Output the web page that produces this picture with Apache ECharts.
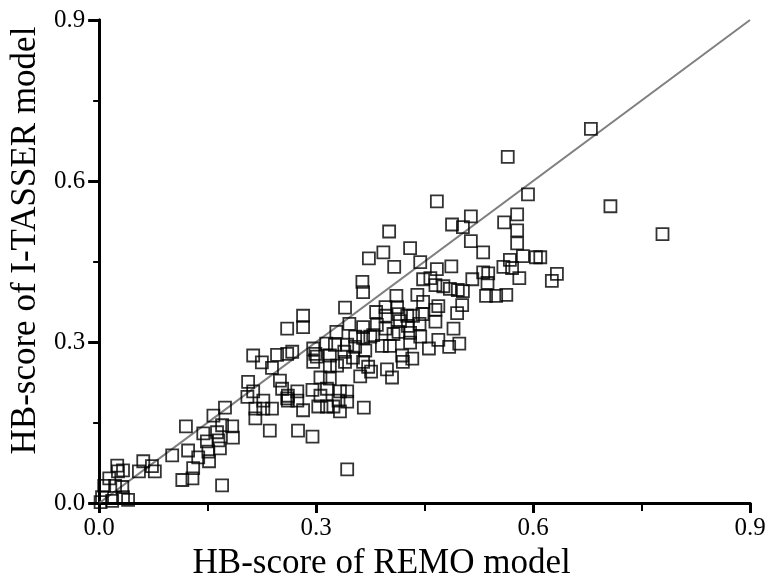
<!DOCTYPE html>
<html>
<head>
    <meta charset="utf-8">
    <title>HB-score scatter</title>
    <script src="https://cdn.jsdelivr.net/npm/echarts@6/dist/echarts.min.js"></script>
    <style>
        html, body { margin: 0; padding: 0; background: #fff; }
    </style>
</head>
<body>
    <div id="main" style="width: 773px;height:586px;"></div>
    <script type="text/javascript">
        // HB-score of REMO model (x) against HB-score of I-TASSER model (y)
        var remoScore = [
            0.025, 0.033, 0.026, 0.014, 0.007, 0.022, 0.032, 0.004, 0.018, 0.033, 0.040, 0.002,
            0.061, 0.073, 0.077, 0.055, 0.101, 0.115, 0.129, 0.130, 0.123, 0.137, 0.152, 0.170,
            0.120, 0.144, 0.158, 0.170, 0.174, 0.184, 0.185, 0.163, 0.149, 0.165, 0.167, 0.151,
            0.213, 0.225, 0.246, 0.260, 0.239, 0.250, 0.253, 0.206, 0.213, 0.205, 0.227, 0.216,
            0.227, 0.239, 0.216, 0.236, 0.260,
            0.401, 0.373, 0.393, 0.408, 0.364, 0.365, 0.340, 0.346, 0.328, 0.282, 0.282, 0.260,
            0.365, 0.383, 0.396, 0.396, 0.411, 0.412, 0.384, 0.396, 0.407, 0.379, 0.354, 0.365,
            0.375, 0.343, 0.354, 0.368, 0.391, 0.402, 0.314, 0.326, 0.296, 0.301, 0.296, 0.319,
            0.319, 0.329, 0.339, 0.351, 0.340, 0.365, 0.372, 0.376, 0.361, 0.398, 0.405, 0.306,
            0.319, 0.315, 0.306, 0.295, 0.333, 0.343, 0.331, 0.343, 0.324, 0.303, 0.315, 0.333,
            0.366, 0.282, 0.299, 0.267, 0.261, 0.274, 0.274, 0.261, 0.275, 0.295,
            0.593, 0.467, 0.514, 0.488, 0.503, 0.560, 0.578, 0.578, 0.578, 0.514, 0.531, 0.430,
            0.444, 0.467, 0.487, 0.586, 0.604, 0.568, 0.559, 0.571, 0.581, 0.531, 0.538, 0.537,
            0.516, 0.503, 0.633, 0.626, 0.535, 0.549, 0.563, 0.448, 0.458, 0.465, 0.476, 0.485,
            0.496, 0.440, 0.448, 0.469, 0.502, 0.495, 0.465, 0.414, 0.426, 0.434, 0.447, 0.416,
            0.427, 0.443, 0.465, 0.490, 0.414, 0.430, 0.444, 0.469, 0.430, 0.456, 0.484, 0.498,
            0.419, 0.433, 0.420,
            0.680, 0.707, 0.779, 0.610, 0.565, 0.343
        ];
        var itasserScore = [
            0.070, 0.061, 0.059, 0.046, 0.032, 0.032, 0.030, 0.011, 0.004, 0.011, 0.006, 0.002,
            0.078, 0.069, 0.059, 0.059, 0.089, 0.043, 0.046, 0.065, 0.098, 0.085, 0.078, 0.033,
            0.143, 0.130, 0.163, 0.145, 0.178, 0.143, 0.122, 0.132, 0.115, 0.117, 0.102, 0.096,
            0.275, 0.262, 0.276, 0.278, 0.252, 0.228, 0.213, 0.226, 0.208, 0.198, 0.191, 0.176,
            0.176, 0.176, 0.158, 0.135, 0.195,
            0.506, 0.456, 0.467, 0.440, 0.412, 0.393, 0.364, 0.334, 0.319, 0.349, 0.328, 0.325,
            0.328, 0.356, 0.365, 0.349, 0.386, 0.365, 0.332, 0.325, 0.315, 0.313, 0.310, 0.308,
            0.310, 0.295, 0.291, 0.284, 0.293, 0.293, 0.297, 0.295, 0.288, 0.273, 0.263, 0.275,
            0.256, 0.256, 0.282, 0.271, 0.263, 0.263, 0.254, 0.245, 0.236, 0.249, 0.234, 0.234,
            0.232, 0.213, 0.200, 0.211, 0.208, 0.208, 0.191, 0.189, 0.180, 0.180, 0.180, 0.171,
            0.178, 0.173, 0.278, 0.282, 0.200, 0.208, 0.191, 0.191, 0.135, 0.124,
            0.575, 0.562, 0.534, 0.519, 0.514, 0.523, 0.538, 0.508, 0.484, 0.488, 0.467, 0.475,
            0.449, 0.436, 0.441, 0.460, 0.458, 0.453, 0.440, 0.438, 0.419, 0.430, 0.428, 0.410,
            0.417, 0.395, 0.427, 0.414, 0.386, 0.386, 0.388, 0.417, 0.419, 0.406, 0.404, 0.399,
            0.397, 0.388, 0.375, 0.367, 0.369, 0.354, 0.360, 0.352, 0.349, 0.349, 0.352, 0.339,
            0.330, 0.334, 0.338, 0.325, 0.319, 0.317, 0.310, 0.304, 0.299, 0.288, 0.291, 0.297,
            0.275, 0.269, 0.263,
            0.697, 0.553, 0.501, 0.458, 0.645, 0.063
        ];
        var diagonal = [0, 0.9];
        var tickLabels = ['0.0', '0.3', '0.6', '0.9'];

        var myChart = echarts.init(document.getElementById('main'));

        var points = remoScore.map(function(x, i) {
            return [x, itasserScore[i]];
        });

        var font = 'Liberation Serif, Times New Roman, serif';
        var labelFmt = function(v) {
            var s = v.toFixed(1);
            return tickLabels.indexOf(s) >= 0 ? s : '';
        };

        var option = {
            animation: false,
            grid: { left: 99, right: 23, top: 20, bottom: 81 },
            xAxis: [{
                type: 'value', min: 0, max: 0.9, interval: 0.3,
                name: 'HB-score of REMO model',
                nameLocation: 'middle', nameGap: 42,
                // title sits a little left of the axis centre in the original
                nameTextStyle: { fontFamily: font, fontSize: 35, color: '#000', padding: [0, 86, 0, 0] },
                axisLine: { lineStyle: { color: '#000', width: 3 } },
                axisTick: { inside: false, length: 10, lineStyle: { color: '#000', width: 3 } },
                minorTick: { show: true, splitNumber: 2, length: 6, lineStyle: { color: '#000', width: 2 } },
                axisLabel: { fontFamily: font, fontSize: 25, color: '#000', margin: 13, formatter: labelFmt },
                splitLine: { show: false }
            }, {
                type: 'value', min: 0, max: 0.9, interval: 0.15, position: 'top',
                axisLine: { lineStyle: { color: '#000', width: 3 } },
                axisTick: { inside: true, length: 8, lineStyle: { color: '#000', width: 2 } },
                axisLabel: { show: false },
                splitLine: { show: false }
            }],
            yAxis: [{
                type: 'value', min: 0, max: 0.9, interval: 0.3,
                name: 'HB-score of I-TASSER model',
                nameLocation: 'middle', nameGap: 54,
                nameTextStyle: { fontFamily: font, fontSize: 35, color: '#000', padding: [0, 0, 0, 42] },
                axisLine: { lineStyle: { color: '#000', width: 3 } },
                axisTick: { inside: false, length: 11, lineStyle: { color: '#000', width: 3 } },
                minorTick: { show: true, splitNumber: 2, length: 6, lineStyle: { color: '#000', width: 2 } },
                axisLabel: { fontFamily: font, fontSize: 25, color: '#000', margin: 14, formatter: labelFmt },
                splitLine: { show: false }
            }, {
                type: 'value', min: 0, max: 0.9, interval: 0.3, position: 'right',
                axisLine: { lineStyle: { color: '#000', width: 3 } },
                axisTick: { inside: true, length: 9, lineStyle: { color: '#000', width: 3 } },
                minorTick: { show: true, splitNumber: 2, length: 5, lineStyle: { color: '#000', width: 2 } },
                axisLabel: { show: false },
                splitLine: { show: false }
            }],
            series: [{
                type: 'line',
                data: [[diagonal[0], diagonal[0]], [diagonal[1], diagonal[1]]],
                symbol: 'none',
                lineStyle: { color: '#808080', width: 2 },
                z: 1
            }, {
                type: 'scatter',
                data: points,
                symbol: 'rect',
                symbolSize: 12,
                itemStyle: { color: 'rgba(255,255,255,0)', borderColor: '#000', borderWidth: 1.8 },
                z: 2
            }]
        };

        myChart.setOption(option);
    </script>
</body>
</html>
